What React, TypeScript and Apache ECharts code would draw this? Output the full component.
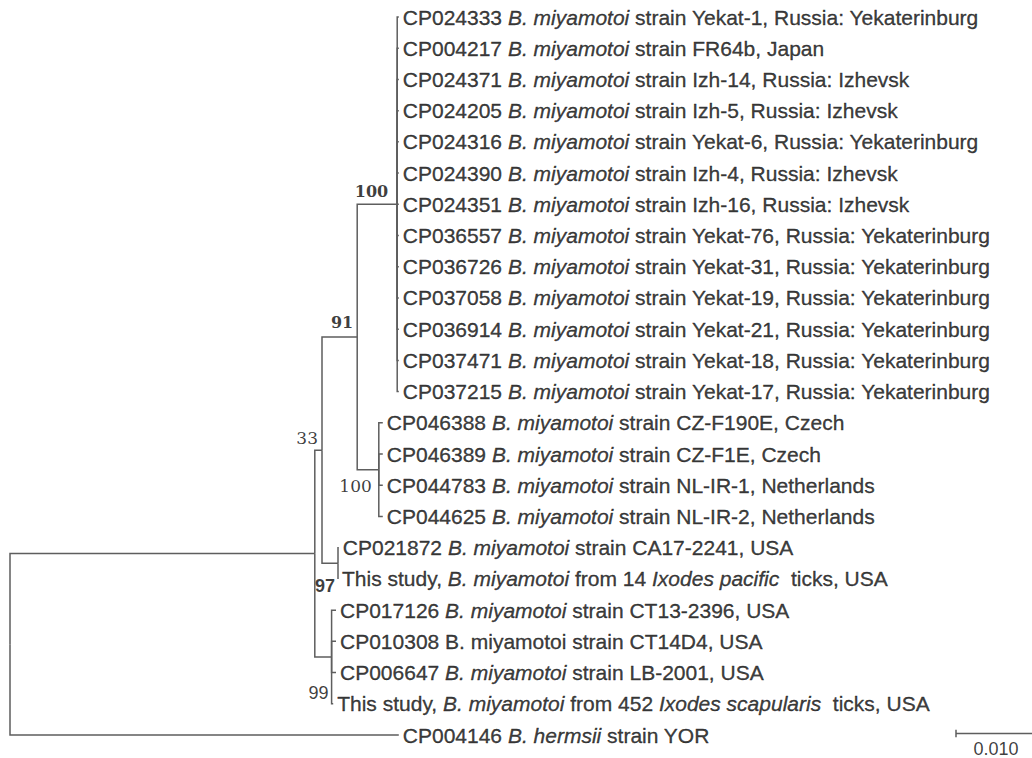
import React, { useEffect, useRef } from "react";
import * as echarts from "echarts";

// Leaf labels: segments alternate normal / italic / normal ...
const leafLabels: string[][] = [
  ["CP024333 ", "B. miyamotoi", " strain Yekat-1, Russia: Yekaterinburg"],
  ["CP004217 ", "B. miyamotoi", " strain FR64b, Japan"],
  ["CP024371 ", "B. miyamotoi", " strain Izh-14, Russia: Izhevsk"],
  ["CP024205 ", "B. miyamotoi", " strain Izh-5, Russia: Izhevsk"],
  ["CP024316 ", "B. miyamotoi", " strain Yekat-6, Russia: Yekaterinburg"],
  ["CP024390 ", "B. miyamotoi", " strain Izh-4, Russia: Izhevsk"],
  ["CP024351 ", "B. miyamotoi", " strain Izh-16, Russia: Izhevsk"],
  ["CP036557 ", "B. miyamotoi", " strain Yekat-76, Russia: Yekaterinburg"],
  ["CP036726 ", "B. miyamotoi", " strain Yekat-31, Russia: Yekaterinburg"],
  ["CP037058 ", "B. miyamotoi", " strain Yekat-19, Russia: Yekaterinburg"],
  ["CP036914 ", "B. miyamotoi", " strain Yekat-21, Russia: Yekaterinburg"],
  ["CP037471 ", "B. miyamotoi", " strain Yekat-18, Russia: Yekaterinburg"],
  ["CP037215 ", "B. miyamotoi", " strain Yekat-17, Russia: Yekaterinburg"],
  ["CP046388 ", "B. miyamotoi", " strain CZ-F190E, Czech"],
  ["CP046389 ", "B. miyamotoi", " strain CZ-F1E, Czech"],
  ["CP044783 ", "B. miyamotoi", " strain NL-IR-1, Netherlands"],
  ["CP044625 ", "B. miyamotoi", " strain NL-IR-2, Netherlands"],
  ["CP021872 ", "B. miyamotoi", " strain CA17-2241, USA"],
  ["This study, ", "B. miyamotoi", " from 14 ", "Ixodes pacific", "  ticks, USA"],
  ["CP017126 ", "B. miyamotoi", " strain CT13-2396, USA"],
  ["CP010308 B. miyamotoi strain CT14D4, USA"],
  ["CP006647 ", "B. miyamotoi", " strain LB-2001, USA"],
  ["This study, ", "B. miyamotoi", " from 452 ", "Ixodes scapularis", "  ticks, USA"],
  ["CP004146 ", "B. hermsii", " strain YOR"],
];

// Parent node of each leaf
const leafParent: string[] = [
  "D", "D", "D", "D", "D", "D", "D", "D", "D", "D", "D", "D", "D",
  "E", "E", "E", "E",
  "F", "F",
  "G", "G", "G", "G",
  "root",
];

// Distance from root (substitutions per site) of each leaf tip
const leafDepth: number[] = [
  0.0486, 0.0486, 0.0486, 0.0486, 0.0486, 0.0486, 0.0486, 0.0486, 0.0486, 0.0486, 0.0486, 0.0486, 0.0486,
  0.0466, 0.0466, 0.0466, 0.0466,
  0.0411, 0.041,
  0.04075, 0.04075, 0.04075, 0.0404,
  0.0486,
];

// Internal nodes (parents listed before children)
const nodeIds: string[] = ["root", "A", "B", "C", "D", "E", "F", "G"];
const nodeParent: (string | null)[] = [null, "root", "A", "B", "C", "C", "B", "A"];
const nodeDepth: number[] = [0, 0.0381, 0.039, 0.0434, 0.0484, 0.0461, 0.041, 0.0402];
const nodeSupport: string[] = ["", "", "33", "91", "100", "100", "97", "99"];

const scaleBarLength = 0.01;
const scaleBarText = "0.010";

// ---- styling (not data) ----
const LINE = "#5e5e5e";
const TEXT = "#0a0a0a";
const supportStyle: Record<string, { dx: number; dy: number; font: string; weight: string; size: number }> = {
  D: { dx: -9, dy: -13, font: "DejaVu Serif", weight: "bold", size: 16 },
  C: { dx: -4, dy: -14, font: "DejaVu Serif", weight: "bold", size: 16 },
  B: { dx: -4, dy: -12, font: "DejaVu Serif", weight: "normal", size: 17 },
  E: { dx: -7, dy: 16, font: "DejaVu Serif", weight: "normal", size: 17 },
  F: { dx: -3, dy: 23, font: "Liberation Sans", weight: "bold", size: 18 },
  G: { dx: -3, dy: 36, font: "Liberation Sans", weight: "normal", size: 18 },
};

function buildTree() {
  const nodeY: Record<string, number> = {};
  const nodeX: Record<string, number> = {};
  nodeIds.forEach((id, i) => (nodeX[id] = nodeDepth[i]));
  for (let k = nodeIds.length - 1; k >= 0; k--) {
    const id = nodeIds[k];
    const ys: number[] = [];
    leafParent.forEach((p, i) => p === id && ys.push(i));
    nodeIds.forEach((n, j) => nodeParent[j] === id && ys.push(nodeY[n]));
    nodeY[id] = (Math.min(...ys) + Math.max(...ys)) / 2;
  }
  const edges: number[][][] = [];
  leafParent.forEach((p, i) => {
    edges.push([[nodeX[p], nodeY[p]], [nodeX[p], i], [leafDepth[i], i]]);
  });
  nodeIds.forEach((id, j) => {
    const p = nodeParent[j];
    if (!p) return;
    edges.push([[nodeX[p], nodeY[p]], [nodeX[p], nodeY[id]], [nodeX[id], nodeY[id]]]);
  });
  return { nodeX, nodeY, edges };
}

function richLabel(parts: string[]) {
  return parts.map((s, i) => `{${i % 2 === 0 ? "n" : "i"}|${s}}`).join("");
}

export default function App() {
  const ref = useRef<HTMLDivElement>(null);
  useEffect(() => {
    if (!ref.current) return;
    const chart = echarts.init(ref.current, undefined, { renderer: "svg" });
    const { nodeX, nodeY, edges } = buildTree();
    const barX0 = 0.11825;
    const barY = 22.95;

    const leafFont = {
      fontFamily: "Liberation Sans",
      fontSize: 21,
      color: TEXT,
      textBorderColor: TEXT,
      textBorderWidth: 0.35,
    };

    chart.setOption({
      animation: false,
      backgroundColor: "#ffffff",
      grid: { left: 10, right: 0, top: 17, bottom: 23 },
      xAxis: { type: "value", min: 0, max: 0.12775, show: false },
      yAxis: { type: "value", min: 0, max: 23, inverse: true, show: false },
      series: [
        {
          type: "lines",
          coordinateSystem: "cartesian2d",
          polyline: true,
          silent: true,
          clip: false,
          lineStyle: { color: LINE, width: 1.5, opacity: 1 },
          data: [
            ...edges.map((c) => ({ coords: c })),
            { coords: [[barX0, barY], [barX0 + scaleBarLength, barY]] },
            { coords: [[barX0, barY - 0.12], [barX0, barY + 0.12]] },
          ],
        },
        {
          type: "scatter",
          symbolSize: 0,
          silent: true,
          clip: false,
          data: leafLabels.map((parts, i) => ({
            value: [leafDepth[i], i],
            label: {
              show: true,
              position: "right",
              distance: 4,
              formatter: richLabel(parts),
              rich: {
                n: { ...leafFont },
                i: { ...leafFont, fontStyle: "italic" },
              },
            },
          })),
        },
        {
          type: "scatter",
          symbolSize: 0,
          silent: true,
          clip: false,
          data: nodeIds
            .map((id, j) => ({ id, s: nodeSupport[j] }))
            .filter((d) => d.s && supportStyle[d.id])
            .map((d) => {
              const st = supportStyle[d.id];
              return {
                value: [nodeX[d.id], nodeY[d.id]],
                label: {
                  show: true,
                  position: "inside",
                  offset: [st.dx, st.dy],
                  align: "right",
                  verticalAlign: "middle",
                  formatter: d.s,
                  fontFamily: st.font,
                  fontWeight: st.weight,
                  fontSize: st.size,
                  color: TEXT,
                },
              };
            }),
        },
        {
          type: "scatter",
          symbolSize: 0,
          silent: true,
          clip: false,
          data: [
            {
              value: [barX0 + scaleBarLength / 2, barY],
              label: {
                show: true,
                position: "inside",
                offset: [0, 16],
                align: "center",
                verticalAlign: "middle",
                formatter: scaleBarText,
                fontFamily: "Liberation Sans",
                fontSize: 18,
                color: TEXT,
              },
            },
          ],
        },
      ],
    });
    return () => chart.dispose();
  }, []);
  return (
    <div
      ref={ref}
      style={{ position: "fixed", left: 0, top: 0, width: 1032, height: 758, background: "#fff" }}
    />
  );
}
